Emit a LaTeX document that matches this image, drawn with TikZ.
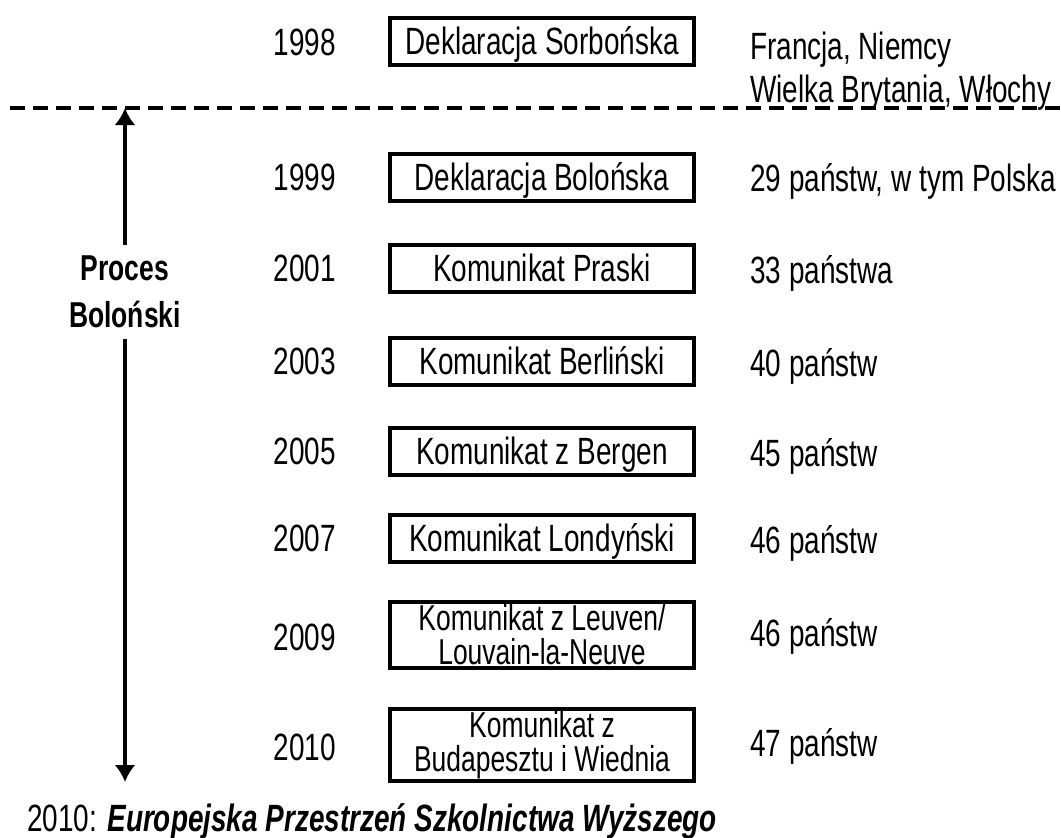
\documentclass[tikz,border=0pt]{standalone}
\usepackage{fontspec}
\setmainfont[FakeStretch=0.735]{Liberation Sans}
\usetikzlibrary{arrows.meta}
\begin{document}
\begin{tikzpicture}[x=1pt,y=1pt,yscale=-1,
  every node/.style={font=\fontsize{38}{44}\selectfont},
  wiersz/.style={text height=27,text depth=0},
  rok/.style={wiersz,inner sep=0},
  ramkabaza/.style={draw,line width=4,minimum width=304,inner sep=1,align=center},
  ramka/.style={ramkabaza,wiersz,minimum height=47},
  ramka2/.style={ramkabaza,font=\fontsize{36}{34}\selectfont},
  opis/.style={wiersz,anchor=west,inner sep=0},
  strzalka/.style={line width=4,-{Latex[length=17,width=21]}}]
\useasboundingbox (0,0) rectangle (1061,838);

% Sorbona
\draw (305,42) node [rok] (r1998) {1998};
\draw (542,41) node [ramka] (b1998) {Deklaracja Sorbońska};
\draw (750,46) node [opis] (n1998) {Francja, Niemcy};
\draw (750,89) node [opis] (n1998b) {Wielka Brytania, Włochy};

% linia przerywana
\draw [line width=4,dash pattern=on 15 off 8] (10,108) -- (1061,108);

% Proces Bolonski
\coordinate (gora) at (125,108);
\coordinate (dol) at (125,782);
\draw (125,292) node [font=\fontsize{36}{47}\selectfont\bfseries,align=center,inner xsep=0,inner ysep=11] (proces) {Proces\\Boloński};
\draw [strzalka] (proces) -- (gora);
\draw [strzalka] (proces) -- (dol);

% kolejne etapy
\draw (305,177) node [rok] (r1999) {1999};
\draw (542,177) node [ramka] (b1999) {Deklaracja Bolońska};
\draw (750,178) node [opis] (n1999) {29 państw, w tym Polska};

\draw (305,268) node [rok] (r2001) {2001};
\draw (542,268) node [ramka] (b2001) {Komunikat Praski};
\draw (750,270) node [opis] (n2001) {33 państwa};

\draw (305,361) node [rok] (r2003) {2003};
\draw (542,361) node [ramka] (b2003) {Komunikat Berliński};
\draw (750,363) node [opis] (n2003) {40 państw};

\draw (305,451) node [rok] (r2005) {2005};
\draw (542,451) node [ramka] (b2005) {Komunikat z Bergen};
\draw (750,453) node [opis] (n2005) {45 państw};

\draw (305,538) node [rok] (r2007) {2007};
\draw (542,538) node [ramka] (b2007) {Komunikat Londyński};
\draw (750,540) node [opis] (n2007) {46 państw};

\draw (305,637) node [rok] (r2009) {2009};
\draw (542,635) node [ramka2,minimum height=66] (b2009) {Komunikat z Leuven/\\Louvain-la-Neuve};
\draw (750,633) node [opis] (n2009) {46 państw};

\draw (305,747) node [rok] (r2010) {2010};
\draw (542,745) node [ramka2,minimum height=72] (b2010) {Komunikat z\\Budapesztu i Wiednia};
\draw (750,743) node [opis] (n2010) {47 państw};

% EHEA
\draw (27,818) node [opis] (ehea) {2010: \textbf{\textit{Europejska Przestrzeń Szkolnictwa Wyższego}}};

\end{tikzpicture}
\end{document}
